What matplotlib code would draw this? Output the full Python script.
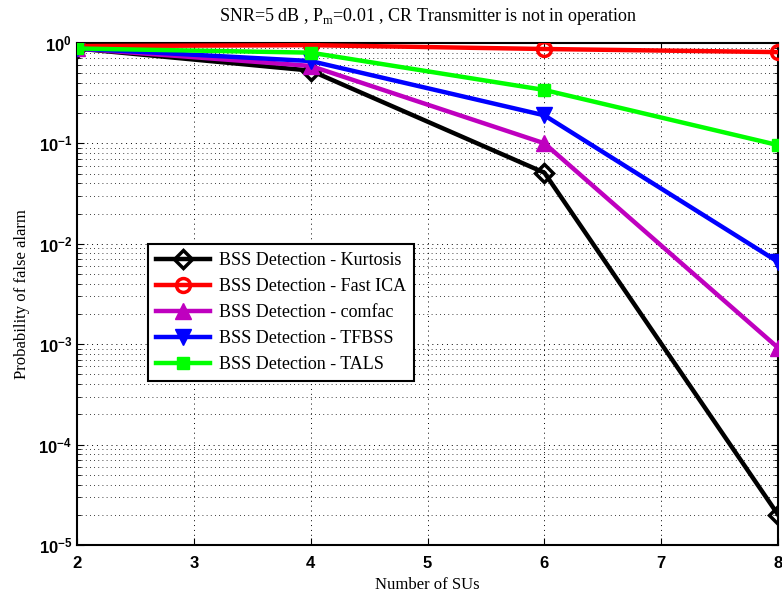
import matplotlib
matplotlib.use("Agg")
import matplotlib.pyplot as plt
from matplotlib.ticker import LogLocator, NullFormatter, FixedLocator

x = [2, 4, 6, 8]
kurtosis = [0.88, 0.53, 0.051, 2.0e-5]
fastica = [0.93, 0.95, 0.87, 0.81]
comfac = [0.88, 0.59, 0.10, 0.00092]
tfbss = [0.88, 0.66, 0.19, 0.0066]
tals = [0.88, 0.80, 0.34, 0.096]
labels = ["BSS Detection - Kurtosis", "BSS Detection - Fast ICA",
          "BSS Detection - comfac", "BSS Detection - TFBSS", "BSS Detection - TALS"]

fig = plt.figure(figsize=(7.82, 5.97), dpi=100)
ax = fig.add_axes([0.0985, 0.0871, 0.8965, 0.841])

serif = "Liberation Serif"
lw = 3.2
ax.plot(x, kurtosis, color="black", lw=lw, marker="D", ms=9, mfc="none", mew=2.5, label=labels[0], zorder=3)
ax.plot(x, fastica, color="red", lw=lw, marker="o", ms=10, mfc="none", mew=2.5, label=labels[1], zorder=3)
ax.plot(x, comfac, color="#bf00bf", lw=lw, marker="^", ms=11, label=labels[2], zorder=3)
ax.plot(x, tfbss, color="blue", lw=lw, marker="v", ms=11, label=labels[3], zorder=3)
ax.plot(x, tals, color="#00ff00", lw=lw, marker="s", ms=9, label=labels[4], zorder=3)

ax.set_yscale("log")
ax.set_xlim(2, 8)
ax.set_ylim(1e-5, 1)
ax.xaxis.set_major_locator(FixedLocator([2, 3, 4, 5, 6, 7, 8]))
ax.yaxis.set_major_locator(LogLocator(base=10, numticks=10))
ax.yaxis.set_minor_locator(LogLocator(base=10, subs=range(2, 10), numticks=20))
ax.yaxis.set_minor_formatter(NullFormatter())
ax.grid(True, which="major", axis="both", linestyle=(0, (1, 4)), color="black", lw=0.7)
ax.grid(True, which="minor", axis="y", linestyle=(0, (1, 4)), color="black", lw=0.6)
ax.tick_params(which="both", direction="in", top=True, right=True)
ax.tick_params(which="major", length=5, labelsize=12)
ax.tick_params(axis="x", which="major", pad=8)
ax.tick_params(which="minor", length=3)
for t in ax.get_xticklabels() + ax.get_yticklabels():
    t.set_fontfamily("Liberation Sans")
    t.set_fontweight("bold")
for s in ax.spines.values():
    s.set_linewidth(1.5)

ax.set_title("SNR=5 dB , P$_{\\mathregular{m}}$=0.01 , CR Transmitter is not in operation",
             fontfamily=serif, fontsize=13, pad=16)
ax.set_xlabel("Number of SUs", fontfamily=serif, fontsize=12, labelpad=4)
ax.set_ylabel("Probability of false alarm", fontfamily=serif, fontsize=12, labelpad=6)

leg = ax.legend(loc="upper left", bbox_to_anchor=(0.101, 0.6), borderaxespad=0,
                prop={"family": serif, "size": 13},
                frameon=True, fancybox=False, edgecolor="black", framealpha=1,
                handlelength=3, borderpad=0.45, labelspacing=0.5, handletextpad=0.5)
leg.get_frame().set_linewidth(1.5)

fig.savefig("out.png", dpi=100)
